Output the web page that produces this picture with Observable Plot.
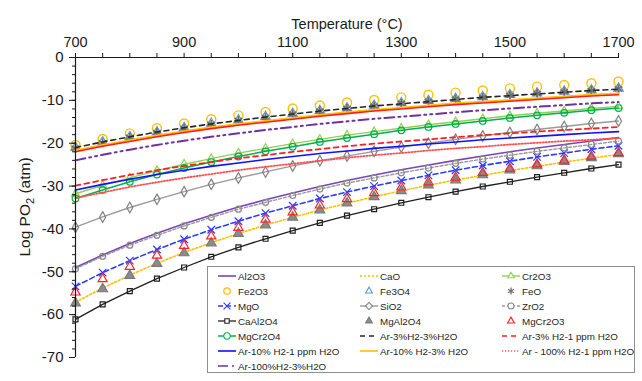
<!DOCTYPE html>
<html><head><meta charset="utf-8">
<script src="https://cdn.jsdelivr.net/npm/d3@7"></script>
<script src="https://cdn.jsdelivr.net/npm/@observablehq/plot@0.6"></script>
<style>
body{margin:0;background:#fff;font-family:"Liberation Sans",Arial,sans-serif;}
#wrap{position:relative;width:642px;height:381px;overflow:hidden;}
#legend{position:absolute;left:207px;top:266px;width:428px;height:107px;border:1px solid #8f8f8f;background:#fff;box-sizing:border-box;font-size:9.8px;color:#262626;}
.item{position:absolute;height:14px;display:flex;align-items:center;white-space:nowrap;}
.item svg{width:18px;height:12px;margin-right:2px;overflow:visible;}
</style></head><body><div id="wrap"><div id="legend"></div></div>
<script>
const temperatures = [700,750,800,850,900,950,1000,1050,1100,1150,1200,1250,1300,1350,1400,1450,1500,1550,1600,1650,1700];
const xTickLabels = [700,900,1100,1300,1500,1700];
const yTickLabels = [-70,-60,-50,-40,-30,-20,-10,0];

const Al2O3   = [-49.0,-46.1,-43.4,-41.0,-38.8,-36.8,-34.9,-33.2,-31.6,-30.1,-28.7,-27.4,-26.2,-25.1,-24.0,-23.0,-22.0,-21.1,-20.3,-19.5,-18.7];
const CaO     = [-57.1,-53.8,-50.8,-48.0,-45.5,-43.2,-41.1,-39.1,-37.3,-35.6,-34.0,-32.5,-31.1,-29.8,-28.6,-27.5,-26.4,-25.4,-24.4,-23.5,-22.6];
const Cr2O3   = [-31.8,-29.8,-28.1,-26.4,-24.9,-23.6,-22.3,-21.2,-20.1,-19.1,-18.1,-17.3,-16.5,-15.7,-15.0,-14.3,-13.6,-13.0,-12.5,-11.9,-11.4];
const Fe2O3   = [-20.4,-19.0,-17.7,-16.5,-15.4,-14.4,-13.5,-12.7,-11.9,-11.2,-10.5,-9.9,-9.3,-8.7,-8.2,-7.7,-7.2,-6.8,-6.4,-6.0,-5.6];
const Fe3O4   = [-21.0,-19.7,-18.5,-17.4,-16.4,-15.4,-14.6,-13.8,-13.1,-12.4,-11.8,-11.2,-10.6,-10.1,-9.6,-9.2,-8.7,-8.3,-7.9,-7.6,-7.2];
const FeO     = [-21.2,-19.9,-18.6,-17.5,-16.5,-15.6,-14.7,-14.0,-13.2,-12.5,-11.9,-11.3,-10.7,-10.2,-9.7,-9.3,-8.8,-8.4,-8.0,-7.7,-7.3];
const MgO     = [-53.4,-50.2,-47.4,-44.8,-42.4,-40.2,-38.2,-36.3,-34.6,-32.9,-31.4,-30.0,-28.7,-27.5,-26.3,-25.2,-24.2,-23.2,-22.3,-21.4,-20.6];
const SiO2    = [-39.6,-37.2,-35.0,-33.1,-31.3,-29.6,-28.1,-26.7,-25.3,-24.1,-23.0,-21.9,-20.9,-20.0,-19.1,-18.3,-17.5,-16.8,-16.1,-15.4,-14.8];
const ZrO2    = [-49.3,-46.4,-43.8,-41.5,-39.3,-37.3,-35.4,-33.8,-32.2,-30.7,-29.3,-28.1,-26.9,-25.8,-24.7,-23.7,-22.8,-21.9,-21.1,-20.3,-19.5];
const CaAl2O4 = [-61.1,-57.6,-54.5,-51.6,-49.0,-46.5,-44.3,-42.3,-40.4,-38.6,-36.9,-35.4,-33.9,-32.6,-31.3,-30.1,-29.0,-27.9,-26.9,-25.9,-25.0];
const MgAl2O4 = [-57.3,-54.0,-50.9,-48.1,-45.6,-43.3,-41.1,-39.1,-37.3,-35.6,-34.0,-32.5,-31.1,-29.8,-28.6,-27.4,-26.3,-25.3,-24.3,-23.4,-22.5];
const MgCr2O3 = [-54.8,-51.7,-48.8,-46.2,-43.9,-41.7,-39.7,-37.8,-36.1,-34.5,-33.0,-31.6,-30.3,-29.1,-28.0,-26.9,-25.9,-24.9,-24.0,-23.1,-22.3];
const MgCr2O4 = [-32.9,-30.9,-29.0,-27.3,-25.8,-24.4,-23.1,-21.9,-20.8,-19.7,-18.8,-17.9,-17.0,-16.2,-15.5,-14.8,-14.1,-13.5,-12.9,-12.3,-11.8];
const Ar3H2_3H2O    = [-21.0,-19.7,-18.5,-17.4,-16.4,-15.5,-14.7,-13.9,-13.2,-12.5,-11.9,-11.3,-10.8,-10.3,-9.8,-9.3,-8.9,-8.5,-8.1,-7.7,-7.4];
const Ar3H2_1ppm    = [-29.9,-28.6,-27.4,-26.3,-25.3,-24.4,-23.5,-22.8,-22.0,-21.4,-20.7,-20.1,-19.6,-19.1,-18.6,-18.1,-17.7,-17.3,-16.9,-16.6,-16.2];
const Ar10H2_1ppm   = [-30.9,-29.6,-28.4,-27.3,-26.3,-25.4,-24.6,-23.8,-23.1,-22.4,-21.8,-21.2,-20.7,-20.2,-19.7,-19.2,-18.8,-18.4,-18.0,-17.6,-17.3];
const Ar10H2_3H2O   = [-21.7,-20.4,-19.3,-18.2,-17.2,-16.3,-15.5,-14.8,-14.1,-13.4,-12.8,-12.2,-11.7,-11.2,-10.7,-10.3,-9.9,-9.5,-9.1,-8.7,-8.4];
const Ar100H2_1ppm  = [-32.8,-31.5,-30.2,-29.1,-28.1,-27.2,-26.3,-25.5,-24.8,-24.1,-23.4,-22.8,-22.3,-21.7,-21.2,-20.8,-20.3,-19.9,-19.5,-19.2,-18.8];
const Ar100H2_3H2O  = [-24.0,-22.7,-21.5,-20.4,-19.4,-18.5,-17.7,-16.9,-16.2,-15.5,-14.9,-14.3,-13.8,-13.3,-12.8,-12.3,-11.9,-11.5,-11.1,-10.7,-10.4];
const unlabelledRed = [-22.0,-20.7,-19.6,-18.5,-17.5,-16.6,-15.8,-15.1,-14.4,-13.7,-13.1,-12.5,-12.0,-11.5,-11.0,-10.6,-10.2,-9.8,-9.4,-9.0,-8.7];

const series = [
  ["Al2O3", Al2O3], ["CaO", CaO], ["Cr2O3", Cr2O3],
  ["Fe2O3", Fe2O3], ["Fe3O4", Fe3O4], ["FeO", FeO],
  ["MgO", MgO], ["SiO2", SiO2], ["ZrO2", ZrO2],
  ["CaAl2O4", CaAl2O4], ["MgAl2O4", MgAl2O4], ["MgCr2O3", MgCr2O3],
  ["MgCr2O4", MgCr2O4], ["Ar-3%H2-3%H2O", Ar3H2_3H2O], ["Ar-3% H2-1 ppm H2O", Ar3H2_1ppm],
  ["Ar-10% H2-1 ppm H2O", Ar10H2_1ppm], ["Ar-10% H2-3% H2O", Ar10H2_3H2O], ["Ar - 100% H2-1 ppm H2O", Ar100H2_1ppm],
  ["Ar-100%H2-3%H2O", Ar100H2_3H2O], ["(red)", unlabelledRed]
];

const styles = {
  "Al2O3": {color:"#7A45B8", width:1.6},
  "CaO": {color:"#FFC000", width:1.6, dash:"2,2"},
  "Cr2O3": {color:"#92D050", width:1.4, symbol:"triangle", r:3},
  "Fe2O3": {color:"#FFC000", noLine:true, symbol:"circle", r:4.5, sw:1.4},
  "Fe3O4": {color:"#5B9BD5", noLine:true, symbol:"triangle", r:3.5},
  "FeO": {color:"#6f6f6f", noLine:true, symbol:"asterisk", r:4.2, sw:1.8},
  "MgO": {color:"#2E3CFF", width:1.6, dash:"5,3", symbol:"times", r:3.5},
  "SiO2": {color:"#9a9a9a", width:1.4, symbol:"diamond", r:3.2, mcolor:"#808080"},
  "ZrO2": {color:"#9a9a9a", width:1.4, dash:"3,2", symbol:"circle", r:3, mcolor:"#8a8a8a"},
  "CaAl2O4": {color:"#1f1f1f", width:1.3, symbol:"square", r:2.8},
  "MgAl2O4": {color:"#7a7a7a", noLine:true, symbol:"triangle", r:3.6, fill:"#8c8c8c"},
  "MgCr2O3": {color:"#FF2222", noLine:true, symbol:"triangle", r:3.4},
  "MgCr2O4": {color:"#00B050", width:1.5, symbol:"circle", r:3.3},
  "Ar-3%H2-3%H2O": {color:"#262626", width:1.6, dash:"5,4"},
  "Ar-3% H2-1 ppm H2O": {color:"#FF2020", width:1.8, dash:"5,4"},
  "Ar-10% H2-1 ppm H2O": {color:"#1010FF", width:1.6},
  "Ar-10% H2-3% H2O": {color:"#FFC000", width:2},
  "Ar - 100% H2-1 ppm H2O": {color:"#FF4F4F", width:1.8, dash:"1.2,1.8"},
  "Ar-100%H2-3%H2O": {color:"#7030A0", width:2, dash:"10,4,2,4,2,4"},
  "(red)": {color:"#FF1A1A", width:1.6, hidden:true}
};

const rows = series.flatMap(([name, vals]) => vals.map((v, i) => ({name, T: temperatures[i], v})));

const marks = [];
for (const [name] of series) {
  const s = styles[name];
  const data = rows.filter(d => d.name === name);
  if (!s.noLine) marks.push(Plot.line(data, {x:"T", y:"v", stroke:s.color, strokeWidth:s.width, strokeDasharray:s.dash}));
  if (s.symbol) marks.push(Plot.dot(data, {x:"T", y:"v", symbol:s.symbol, r:s.r, stroke:s.mcolor || s.color, fill:s.fill || "none", strokeWidth:s.sw || 1.2}));
}

const plot = Plot.plot({
  width: 642, height: 381,
  marginLeft: 75, marginRight: 24, marginTop: 57, marginBottom: 24,
  style: {fontFamily: '"Liberation Sans", Arial, sans-serif', fontSize: "15px", color: "#1a1a1a", background: "transparent"},
  x: {domain: [700, 1700]},
  y: {domain: [-70, 0]},
  marks: [
    ...marks,
    Plot.ruleX([700], {stroke:"#1a1a1a", strokeWidth:1.2}),
    Plot.ruleY([0], {stroke:"#1a1a1a", strokeWidth:1.2}),
    Plot.axisX({anchor:"top", ticks: temperatures, tickSize:5, tickPadding:6, fontSize:14.5,
      tickFormat: d => xTickLabels.includes(d) ? String(d) : "", label:null}),
    Plot.axisY({ticks: yTickLabels, tickSize:6, tickPadding:6, fontSize:15, tickFormat: d => String(d), label:null}),
    Plot.axisY({ticks: d3.range(-70, 1, 2), tickSize:3, tickFormat: () => "", label:null}),
    Plot.text(["Temperature (°C)"], {frameAnchor:"top", dy:-39, fontSize:14.5, fill:"#1a1a1a"})
  ]
});

const wrap = document.getElementById("wrap");
wrap.insertBefore(plot, wrap.firstChild);

// y axis title with subscript
const svg = d3.select(plot.tagName.toLowerCase() === "svg" ? plot : plot.querySelector("svg"));
const t = svg.append("text")
  .attr("transform", "translate(25,207) rotate(-90)")
  .attr("text-anchor", "middle")
  .attr("font-size", 15.5)
  .attr("fill", "#1a1a1a")
  .attr("dy", "0.35em");
t.append("tspan").text("Log PO");
t.append("tspan").text("2").attr("font-size", 11).attr("dy", 4);
t.append("tspan").text(" (atm)").attr("dy", -4);

// legend
const legend = document.getElementById("legend");
const legendItems = series.filter(([n]) => !styles[n].hidden).map(([n]) => n);
legendItems.forEach((name, i) => {
  const s = styles[name];
  const row = Math.floor(i / 3), col = i % 3;
  const div = document.createElement("div");
  div.className = "item";
  div.style.left = (10 + col * 142) + "px";
  div.style.top = (2 + row * 15) + "px";
  let inner = "";
  if (!s.noLine) inner += `<line x1="0" x2="18" y1="6" y2="6" stroke="${s.color}" stroke-width="${Math.min(s.width,1.6)}" ${s.dash ? `stroke-dasharray="${s.dash}"` : ""}/>`;
  if (s.symbol) {
    const map = {circle:d3.symbolCircle, triangle:d3.symbolTriangle2, times:d3.symbolTimes, diamond:d3.symbolDiamond2, square:d3.symbolSquare2, asterisk:d3.symbolAsterisk};
    const r = Math.min(s.r, 3.2);
    const p = d3.symbol(map[s.symbol], Math.PI * r * r)();
    inner += `<path transform="translate(9,6)" d="${p}" fill="${s.fill || "#fff"}" stroke="${s.mcolor || s.color}" stroke-width="${s.sw ? 1.3 : 1.1}"/>`;
  }
  div.innerHTML = `<svg viewBox="0 0 18 12">${inner}</svg><span>${name}</span>`;
  legend.appendChild(div);
});
</script></body></html>
